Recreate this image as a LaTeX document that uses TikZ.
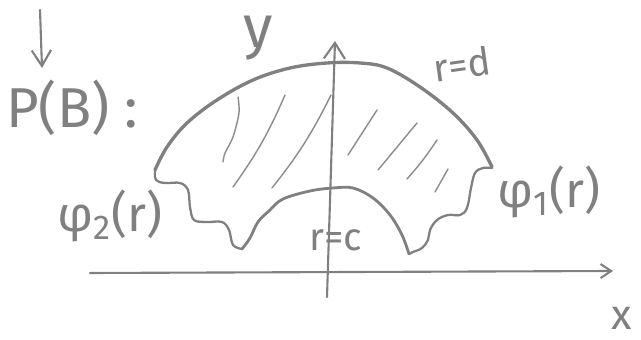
\documentclass[tikz,border=0pt]{standalone}
\usepackage{fontspec}
\setmainfont{Fira Sans}
\usetikzlibrary{arrows.meta}
\definecolor{pencil}{RGB}{128,128,128}
\definecolor{hatchink}{RGB}{140,140,140}

\begin{document}
\begin{tikzpicture}[
  x=0.02cm, y=-0.02cm,
  axis/.style={draw=pencil, line width=1.2pt, line cap=round},
  bound/.style={draw=pencil, line width=1.6pt, line cap=round, line join=round},
  wave/.style={draw=pencil, line width=1.3pt, line cap=round, line join=round},
  hatch/.style={draw=hatchink, line width=0.8pt, line cap=round},
  lab/.style={text=pencil, inner sep=0pt},
]

  % Canvas in pixel units, y pointing down
  \path[use as bounding box] (0,0) rectangle (641,340);

  % --- Axes ---
  \coordinate (xl) at (90,273);
  \coordinate (xr) at (613,271);
  \coordinate (yb) at (327,297);
  \coordinate (yt) at (335,41);
  \draw[axis, -{Straight Barb[length=6pt, width=8pt]}] (xl) -- (xr);
  \draw[axis, -{Straight Barb[length=9pt, width=12pt]}] (yb) -- (yt);

  % --- Pointer above the set name ---
  \coordinate (pt) at (40,10);
  \coordinate (pb) at (42,68);
  \draw[axis, -{Straight Barb[length=9pt, width=11pt]}] (pt) -- (pb);

  % --- Outer arc r=d ---
  \draw[bound, line width=1.9pt] plot[smooth, tension=0.6] coordinates {
    (155,170) (167,147) (187,123) (217,100) (253,80) (290,68)
    (327,63) (360,63) (387,68) (420,87) (453,113) (477,140) (492,167)};

  % --- Inner arc r=c ---
  \draw[bound] plot[smooth, tension=0.6] coordinates {
    (242,249) (250,238) (258,222) (270,210) (283,199) (310,191)
    (333,188) (353,188) (373,198) (390,215) (402,235) (409,254)};

  % --- Wavy sides ---
  \draw[wave] plot[smooth, tension=0.6] coordinates {
    (155,170) (156,180) (165,183) (180,183) (188,190) (190,207)
    (194,220) (207,222) (222,222) (229,230) (233,245) (242,249)};
  \draw[wave] plot[smooth, tension=0.6] coordinates {
    (409,254) (413,252) (422,248) (428,240) (430,230) (437,220)
    (448,215) (460,215) (467,208) (471,188) (475,173) (483,168) (492,168)};

  % --- Hatching ---
  \draw[hatch] plot[smooth] coordinates {(238,97) (239,113) (233,137) (225,153) (223,162)};
  \draw[hatch] (285,95) to[bend left=6] (233,187);
  \draw[hatch] (331,95) to[bend left=6] (272,188);
  \draw[hatch] (377,110) -- (348,155);
  \draw[hatch] (417,123) -- (378,170);
  \draw[hatch] (437,140) to[bend left=4] (407,179);
  \draw[hatch] (448,169) -- (435,192);

  % --- Labels ---
  \node[lab, font=\fontsize{32}{32}\selectfont] (setname) at (72,108) {P(B) :};
  \node[lab, font=\fontsize{34}{34}\selectfont] (ylab) at (258,38) {y};
  \node[lab, font=\fontsize{24}{24}\selectfont] (xlab) at (622,318) {x};
  \node[lab, font=\fontsize{22}{22}\selectfont, rotate=8] (outer) at (462,64) {r=d};
  \node[lab, font=\fontsize{22}{22}\selectfont] (inner) at (336,240) {r=c};
  \node[lab, font=\fontsize{28}{28}\selectfont] (phione) at (549,192) {φ\textsubscript{1}(r)};
  \node[lab, font=\fontsize{28}{28}\selectfont] (phitwo) at (110,216) {φ\textsubscript{2}(r)};

\end{tikzpicture}
\end{document}
